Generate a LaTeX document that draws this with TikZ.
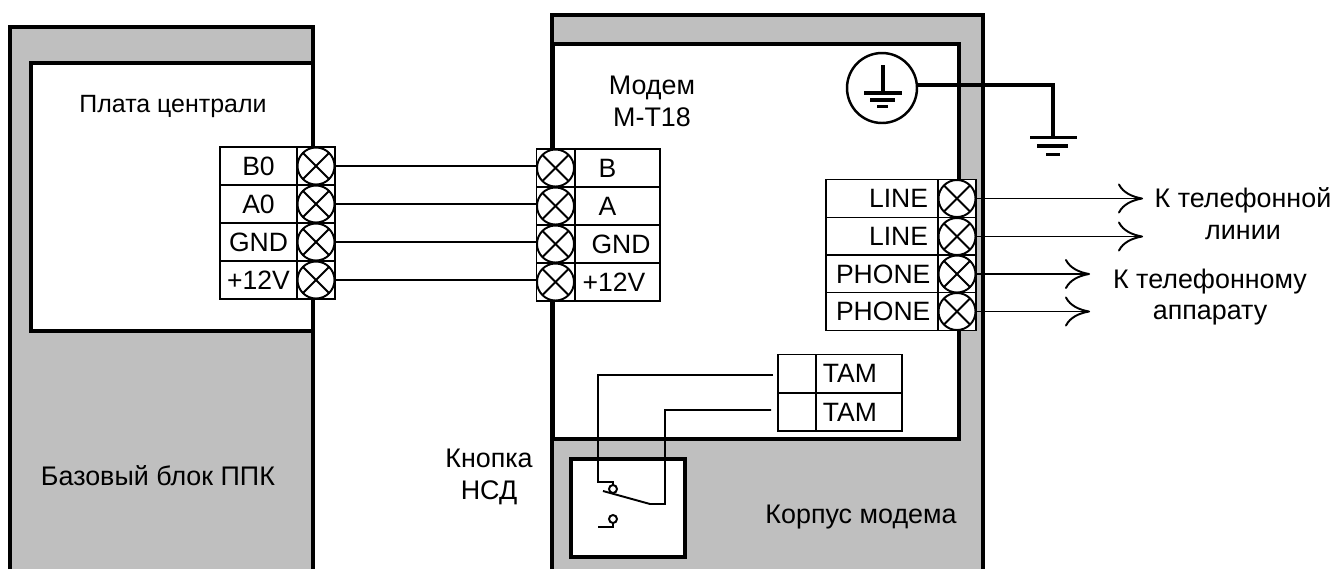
\documentclass[tikz,border=0pt]{standalone}
\usepackage{fontspec}
\setmainfont{Liberation Sans}
\usetikzlibrary{positioning,arrows.meta}

\definecolor{blockgray}{gray}{0.75}

\tikzset{
  label text/.style={font=\fontsize{15.3pt}{18.1pt}\selectfont,align=center,inner sep=0pt},
  cell/.style={draw,line width=1.1pt,fill=white,minimum height=.76cm,inner sep=0pt,outer sep=0pt,font=\fontsize{15.1pt}{18.1pt}\selectfont},
  pincell/.style={cell,minimum width=.76cm},
  cell a/.style={cell,minimum width=1.54cm},
  cell b/.style={cell,minimum width=1.7cm},
  cell line/.style={cell,minimum width=2.24cm,text width=1.84cm,align=right},
  cell tam/.style={cell,minimum width=1.72cm},
  clamp/.style={circle,draw,line width=1.1pt,minimum size=.74cm,inner sep=0pt,outer sep=0pt,
    path picture={
      \draw[line width=1.1pt] (path picture bounding box.north west)--(path picture bounding box.south east);
      \draw[line width=1.1pt] (path picture bounding box.south west)--(path picture bounding box.north east);
    }},
  wall/.style={line width=2pt},
  wire/.style={line width=1.1pt},
  out wire/.style={wire,-{Computer Modern Rightarrow[length=.5cm,width=.6cm]}},
  contact/.style={circle,draw,line width=1.1pt,minimum size=.16cm,inner sep=0pt,outer sep=0pt}
}

\begin{document}
\begin{tikzpicture}[x=.02cm,y=-.02cm]
\useasboundingbox (0,0) rectangle (1333,569);

% Base block
\fill[blockgray] (10,27) rectangle (313,569);
\draw[wall] (10,569)--(10,27)--(313,27)--(313,569);
\draw[wall,fill=white] (31,63) rectangle (313,331);

% Modem housing
\fill[blockgray] (552,15) rectangle (983,569);
\draw[wall] (552,569)--(552,15)--(983,15)--(983,569);
\draw[wall,fill=white] (553,44) rectangle (959,439);
\draw[line width=2.2pt,fill=white] (571,459) rectangle (685,557);

% Board terminals
\path
(258.5,166)   node[cell a]  (cb0) {B0}
+(57.5,0)     node[pincell] (pb0) {}
+(57.5,0)     node[clamp]   (b0) {}
(258.5,204)   node[cell a]  (ca0) {A0}
+(57.5,0)     node[pincell] (pa0) {}
+(57.5,0)     node[clamp]   (a0) {}
(258.5,242)   node[cell a]  (cg0) {GND}
+(57.5,0)     node[pincell] (pg0) {}
+(57.5,0)     node[clamp]   (g0) {}
(258.5,280)   node[cell a]  (cp0) {+12V}
+(57.5,0)     node[pincell] (pp0) {}
+(57.5,0)     node[clamp]   (p0) {}
;

% Modem terminals
\path
(617.5,168)   node[cell b]  (cb1) {\hspace{-.4cm}B}
+(-62,0)      node[pincell] (pb1) {}
+(-62,0)      node[clamp]   (b1) {}
(617.5,206)   node[cell b]  (ca1) {\hspace{-.4cm}A}
+(-62,0)      node[pincell] (pa1) {}
+(-62,0)      node[clamp]   (a1) {}
(617.5,244)   node[cell b]  (cg1) {\hspace{.14cm}GND}
+(-62,0)      node[pincell] (pg1) {}
+(-62,0)      node[clamp]   (g1) {}
(617.5,282)   node[cell b]  (cp1) {\hspace{-.14cm}+12V}
+(-62,0)      node[pincell] (pp1) {}
+(-62,0)      node[clamp]   (p1) {}
;

\draw[wire] (b0.east)--(b0.east -| b1.west);
\draw[wire] (a0.east)--(a0.east -| a1.west);
\draw[wire] (g0.east)--(g0.east -| g1.west);
\draw[wire] (p0.east)--(p0.east -| p1.west);

% Line and phone terminals
\path
(882,198.5)   node[cell line] (cl1) {LINE}
+(75,0)       node[pincell]   (pl1) {}
+(75,0)       node[clamp]     (l1) {}
(882,236.5)   node[cell line] (cl2) {LINE}
+(75,0)       node[pincell]   (pl2) {}
+(75,0)       node[clamp]     (l2) {}
(882,274)     node[cell line] (cf1) {PHONE}
+(75,0)       node[pincell]   (pf1) {}
+(75,0)       node[clamp]     (f1) {}
(882,311.5)   node[cell line] (cf2) {PHONE}
+(75,0)       node[pincell]   (pf2) {}
+(75,0)       node[clamp]     (f2) {}
;

\coordinate (tol1) at (1143,198.5);
\coordinate (tol2) at (1143,236.5);
\coordinate (tof1) at (1090,274);
\coordinate (tof2) at (1090,311.5);
\draw[out wire] (l1)--(tol1);
\draw[out wire] (l2)--(tol2);
\draw[out wire] (f1)--(tof1);
\draw[out wire] (f2)--(tof2);

% Ground
\node[circle,draw,line width=1.4pt,minimum size=1.4cm,inner sep=0pt,outer sep=0pt] (gndring) at (882,88) {};
\coordinate (gndtop) at (883,65);
\coordinate (gndbar) at (883,93);
\draw[wall] (gndtop)--(gndbar);
\draw[wall] (864,93)--(902,93);
\draw[wall] (870,100)--(895,100);
\draw[wall] (877,106.5)--(888,106.5);

\coordinate (earth) at (1053,137);
\draw[wall] (gndring.5) -| (earth);
\draw[wall] (1030,137.5)--(1077,137.5);
\draw[wall] (1037,146)--(1068,146);
\draw[wall] (1046,154.5)--(1060,154.5);

% TAM and button
\path
(859,373.5)   node[cell tam] (ct1) {\hspace{-.36cm}TAM}
+(-62,0)      node[pincell]  (pt1) {}
(859,412)     node[cell tam] (ct2) {\hspace{-.36cm}TAM}
+(-62,0)      node[pincell]  (pt2) {}
;

\node[contact] (swup) at (613,489) {};
\node[contact] (swlow) at (613,519) {};
\coordinate (tam1) at (773,375);
\coordinate (tam2) at (771,410);
\coordinate (sw1) at (598,482);
\coordinate (sw2) at (665,504);
\coordinate (swbend) at (650,504);
\coordinate (swtip) at (603,491);
\coordinate (swfoot) at (598,527);

\draw[wire] (tam1) -| (sw1) -| (swup.north);
\draw[wire] (tam2) -| (sw2) -- (swbend) -- (swtip);
\draw[wire] (swlow.south) |- (swfoot);

% Labels
\node[label text,font=\fontsize{14.2pt}{18.1pt}\selectfont] (board) at (173,107) {Плата централи};
\node[label text] (base) at (158,476) {Базовый блок ППК};
\node[label text] (modem) at (652,101) {Модем\\М-Т18};
\node[label text] (button) at (489,477) {Кнопка\\НСД};
\node[label text] (housing) at (861,517) {Корпус модема};
\node[label text] (toline) at (1243,214) {К телефонной\\линии};
\node[label text] (tophone) at (1210,297) {К телефонному\\аппарату};

\end{tikzpicture}
\end{document}
